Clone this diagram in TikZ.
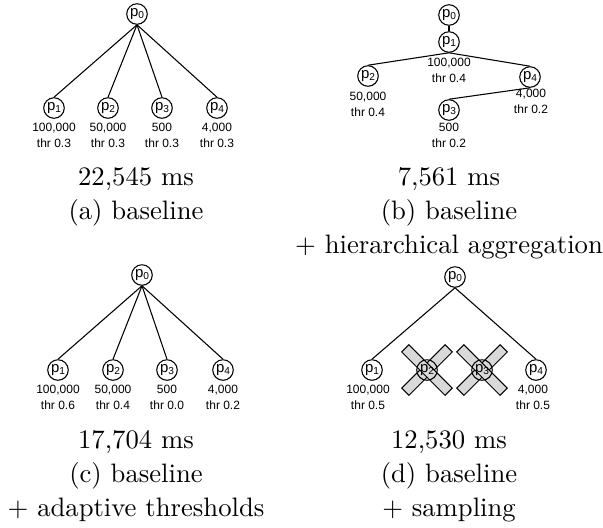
\documentclass[tikz,border=0pt]{standalone}
\usepackage{fontspec}
\newfontfamily\lblfont{Liberation Sans}
% process name with a lowered index
\newcommand\pname[1]{p\raisebox{-0.7pt}{\fontsize{3.8}{4}\selectfont #1}}
\begin{document}
\begin{tikzpicture}[x=0.375pt,y=-0.375pt,
  proc/.style={circle,draw,line width=0.4pt,minimum size=7.7pt,inner sep=0pt,
    font=\lblfont\fontsize{5.6}{5.6}\selectfont},
  info/.style={align=center,inner sep=0pt,font=\lblfont\fontsize{4.5}{6}\selectfont},
  link/.style={line width=0.4pt},
  captext/.style={anchor=base,inner sep=0pt,font=\fontsize{10}{12}\selectfont},
  bar/.style={draw=black,fill=black!15,line width=0.35pt,inner sep=0pt,
    minimum width=23pt,minimum height=3.8pt}
]
\useasboundingbox (0,0) rectangle (603,527);

% ---------- (a) baseline ----------
\node[proc] (a0) at (137,14) {\pname{0}};
\node[proc] (a1) at (54,108) {\pname{1}};
\node[proc] (a2) at (108,108) {\pname{2}};
\node[proc] (a3) at (162,108) {\pname{3}};
\node[proc] (a4) at (217,108) {\pname{4}};
\foreach \c in {a1,a2,a3,a4} \draw[link] (a0.south) -- (\c.north);
\node[info] (la1) at (54,135) {100,000\\thr 0.3};
\node[info] (la2) at (108,135) {50,000\\thr 0.3};
\node[info] (la3) at (162,135) {500\\thr 0.3};
\node[info] (la4) at (217,135) {4,000\\thr 0.3};
\node[captext] (ta) at (136,185) {22,545 ms};
\node[captext] (sa) at (136,219) {(a) baseline};

% ---------- (b) hierarchical aggregation ----------
\node[proc] (b0) at (449,15) {\pname{0}};
\node[proc] (b1) at (449,42) {\pname{1}};
\node[proc] (b2) at (368,76) {\pname{2}};
\node[proc] (b4) at (530,77) {\pname{4}};
\node[proc] (b3) at (449,110) {\pname{3}};
\draw[link] (b0.south) -- (b1.north);
\draw[link] (b1.south) -- (b2.north);
\draw[link] (b1.south) -- (b4.north);
\draw[link] (b4.south) -- (b3.north);
\node[info] (lb1) at (449,70) {100,000\\thr 0.4};
\node[info] (lb2) at (368,104.5) {50,000\\thr 0.4};
\node[info] (lb4) at (531,101) {4,000\\thr 0.2};
\node[info] (lb3) at (449,135.5) {500\\thr 0.2};
\node[captext] (tb) at (449,185) {7,561 ms};
\node[captext] (sb) at (449,219) {(b) baseline};
\node[captext] (ub) at (449,253) {+ hierarchical aggregation};

% ---------- (c) adaptive thresholds ----------
\node[proc] (c0) at (142,275) {\pname{0}};
\node[proc] (c1) at (58,370) {\pname{1}};
\node[proc] (c2) at (113,370) {\pname{2}};
\node[proc] (c3) at (167,370) {\pname{3}};
\node[proc] (c4) at (223,370) {\pname{4}};
\foreach \c in {c1,c2,c3,c4} \draw[link] (c0.south) -- (\c.north);
\node[info] (lc1) at (58,397) {100,000\\thr 0.6};
\node[info] (lc2) at (113,397) {50,000\\thr 0.4};
\node[info] (lc3) at (167,397) {500\\thr 0.0};
\node[info] (lc4) at (223,397) {4,000\\thr 0.2};
\node[captext] (tc) at (136,448) {17,704 ms};
\node[captext] (sc) at (136,482) {(c) baseline};
\node[captext] (uc) at (136,516) {+ adaptive thresholds};

% ---------- (d) sampling ----------
% crossed-out processes: bars first, nodes on top
\node[bar,rotate=45]  (x2a) at (427,370) {};
\node[bar,rotate=-45] (x2b) at (427,370) {};
\node[bar,rotate=45]  (x3a) at (482,370) {};
\node[bar,rotate=-45] (x3b) at (482,370) {};
\node[proc] (d0) at (455,277) {\pname{0}};
\node[proc] (d1) at (372,370) {\pname{1}};
\node[proc] (d2) at (427,370) {\pname{2}};
\node[proc] (d3) at (482,370) {\pname{3}};
\node[proc] (d4) at (536,370) {\pname{4}};
\draw[link] (d0.south) -- (d1.north);
\draw[link] (d0.south) -- (d4.north);
\node[info] (ld1) at (368,397.5) {100,000\\thr 0.5};
\node[info] (ld4) at (533,397.5) {4,000\\thr 0.5};
\node[captext] (td) at (449,448) {12,530 ms};
\node[captext] (sd) at (449,482) {(d) baseline};
\node[captext] (ud) at (449,516) {+ sampling};
\end{tikzpicture}
\end{document}
